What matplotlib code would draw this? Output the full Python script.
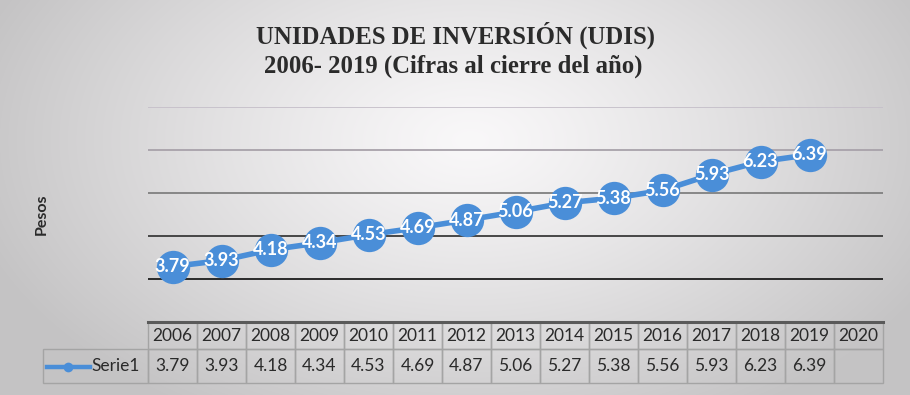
import numpy as np
import matplotlib
matplotlib.use("Agg")
import matplotlib.pyplot as plt
from matplotlib.lines import Line2D
from matplotlib.table import Table

years = ["2006", "2007", "2008", "2009", "2010", "2011", "2012", "2013",
         "2014", "2015", "2016", "2017", "2018", "2019", "2020"]
udis = [3.79, 3.93, 4.18, 4.34, 4.53, 4.69, 4.87, 5.06, 5.27, 5.38,
        5.56, 5.93, 6.23, 6.39]
series_name = "Serie1"
grid_values = [3.5, 4.5, 5.5, 6.5, 7.5]
grid_colors = ["#1c1c1c", "#3a3a3a", "#808080", "#a8a2aa", "#c6c0ca"]

W, H = 910, 395
blue = "#4a8ed8"
text_dark = "#2a2a2a"
edge = "#a4a4a4"

fig = plt.figure(figsize=(W / 100, H / 100), dpi=100)

# gradient background (light centre, grey edges)
bg = fig.add_axes([0, 0, 1, 1])
yy, xx = np.mgrid[0:H, 0:W]
d = np.sqrt(((xx - 470) / 520.0) ** 2 + ((yy - 140) / 320.0) ** 2)
d = np.clip(d, 0, 1) ** 1.2
shade = 249 - (249 - 196) * d
img = np.dstack([shade, shade * 0.995, shade]) / 255.0
bg.imshow(img, aspect="auto", extent=[0, 1, 0, 1], origin="upper")
bg.set_axis_off()

# plot area: x 148..883 px, y 107..322 px
plot_w = 883 - 148
plot_h = 322 - 107
ax = fig.add_axes([148 / W, 1 - 322 / H, plot_w / W, plot_h / H])
ax.patch.set_alpha(0)
x = np.arange(len(udis))
ax.set_xlim(-0.5, len(years) - 0.5)
ax.set_ylim(2.5, 7.5)

for gv, gc in zip(grid_values, grid_colors):
    ax.axhline(gv, color=gc, lw=1.3, zorder=1)

ax.plot(x, udis, color=blue, lw=4, marker="o", markersize=24,
        markeredgewidth=0, zorder=3)
for xi, v in zip(x, udis):
    ax.text(xi, v, f"{v:.2f}", ha="center", va="center", color="white",
            fontsize=13, fontweight="bold", family="Lato", zorder=4)

for s in ["left", "right", "top"]:
    ax.spines[s].set_visible(False)
ax.spines["bottom"].set_color("#5a5a5a")
ax.spines["bottom"].set_linewidth(2.2)
ax.spines["bottom"].set_zorder(5)
ax.set_xticks([])
ax.set_yticks([])

# data table below the plot; column 0 holds the series name
lab_w = 148 - 43
tbl = Table(ax, bbox=[-lab_w / plot_w, -(383 - 322) / plot_h,
                      (plot_w + lab_w) / plot_w, (383 - 322) / plot_h])
values_txt = [f"{v:.2f}" for v in udis] + [""] * (len(years) - len(udis))
hdr = tbl.add_cell(0, 0, lab_w, 27, text="", facecolor="none",
                   edgecolor="none")
hdr.visible_edges = ""
lab = tbl.add_cell(1, 0, lab_w, 33, text=series_name, loc="right",
                   facecolor="none", edgecolor=edge)
lab.PAD = 0.08
for j, (yr, vt) in enumerate(zip(years, values_txt), start=1):
    tbl.add_cell(0, j, 49, 27, text=yr, loc="center", facecolor="none",
                 edgecolor=edge)
    tbl.add_cell(1, j, 49, 33, text=vt, loc="center", facecolor="none",
                 edgecolor=edge)
tbl.auto_set_font_size(False)
tbl.set_fontsize(12.5)
for cell in tbl.get_celld().values():
    cell.set_linewidth(1.0)
    cell.get_text().set_color(text_dark)
    cell.get_text().set_family("Lato")
ax.add_table(tbl)

# legend key inside the series-name cell
fig.add_artist(Line2D([47 / W, 90 / W], [1 - 367 / H, 1 - 367 / H],
                      color=blue, lw=3.2))
fig.add_artist(Line2D([68 / W], [1 - 367 / H], color=blue, marker="o",
                      markersize=7, markeredgewidth=0))

fig.text(42 / W, 1 - 214 / H, "Pesos", rotation=90, ha="center",
         va="center", fontsize=11.5, fontweight="bold", color=text_dark,
         family="Lato")

fig.text(455 / W, 1 - 35 / H, "UNIDADES DE INVERSIÓN (UDIS)", ha="center",
         va="center", fontsize=17.8, fontweight="bold", color="#2b2b2b",
         family="Liberation Serif")
fig.text(453 / W, 1 - 66 / H, "2006- 2019 (Cifras al cierre del año)",
         ha="center", va="center", fontsize=17.8, fontweight="bold",
         color="#2b2b2b", family="Liberation Serif")

fig.savefig("out.png", dpi=100)
